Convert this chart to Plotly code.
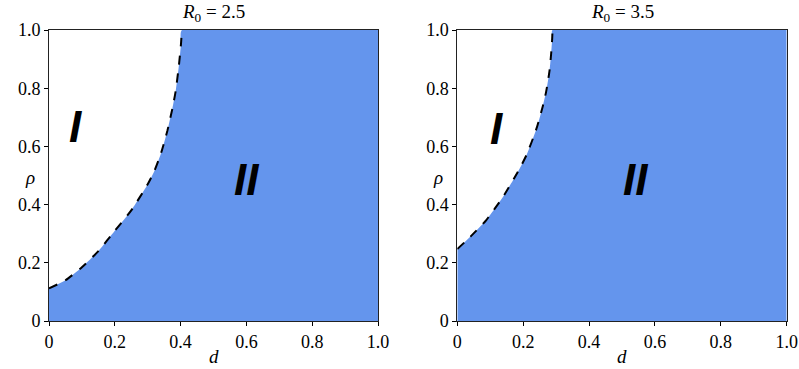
import plotly.graph_objects as go

# Boundary curves (d, rho)
d_r25 = [0.0, 0.05, 0.10, 0.15, 0.20, 0.25, 0.30, 0.32, 0.34, 0.36, 0.375, 0.385, 0.395, 0.401, 0.404]
rho_r25 = [0.112, 0.14, 0.185, 0.24, 0.31, 0.38, 0.47, 0.515, 0.575, 0.655, 0.73, 0.79, 0.88, 0.95, 1.0]

d_r35 = [0.0, 0.04, 0.088, 0.139, 0.184, 0.21, 0.24, 0.26, 0.27, 0.28, 0.285, 0.288, 0.289]
rho_r35 = [0.247, 0.29, 0.347, 0.427, 0.513, 0.57, 0.66, 0.74, 0.79, 0.86, 0.92, 0.97, 1.0]

titles = ["<i>R</i><sub>0</sub> = 2.5", "<i>R</i><sub>0</sub> = 3.5"]
tick_vals = [0, 0.2, 0.4, 0.6, 0.8, 1.0]
tick_text = ["0", "0.2", "0.4", "0.6", "0.8", "1.0"]
region_labels = ["I", "II"]
label_pos_r25 = [(0.08, 0.67), (0.60, 0.485)]
label_pos_r35 = [(0.12, 0.66), (0.54, 0.485)]

BLUE = "#6495ED"
AX_MIN, AX_MAX = 0.0, 1.0
SERIF = "Liberation Serif"

W, H = 799, 369


def fx(px):
    return px / W


def fy(py):
    return 1 - py / H


fig = go.Figure()

panels = [(d_r25, rho_r25, "x", "y", label_pos_r25),
          (d_r35, rho_r35, "x2", "y2", label_pos_r35)]

for d, rho, xa, ya, lpos in panels:
    fig.add_trace(go.Scatter(x=[AX_MIN, AX_MAX], y=[AX_MIN, AX_MIN], mode="lines",
                             line=dict(width=0, color=BLUE), xaxis=xa, yaxis=ya,
                             showlegend=False, hoverinfo="skip"))
    fig.add_trace(go.Scatter(x=list(d) + [AX_MAX], y=list(rho) + [AX_MAX], mode="lines",
                             fill="tonexty", fillcolor=BLUE,
                             line=dict(width=0, color=BLUE, shape="spline", smoothing=0.6),
                             xaxis=xa, yaxis=ya, showlegend=False, hoverinfo="skip"))
    fig.add_trace(go.Scatter(x=d, y=rho, mode="lines",
                             line=dict(color="black", width=2, dash="dash",
                                       shape="spline", smoothing=0.6),
                             xaxis=xa, yaxis=ya, showlegend=False))
    for txt, (lx, ly) in zip(region_labels, lpos):
        fig.add_annotation(x=lx, y=ly, xref=xa, yref=ya, text="<b><i>%s</i></b>" % txt,
                           showarrow=False, xanchor="center", yanchor="middle",
                           font=dict(family="Liberation Sans", size=44, color="black"))

axis_common = dict(range=[AX_MIN, AX_MAX], tickvals=tick_vals, ticktext=tick_text,
                   ticks="outside", ticklen=4, tickwidth=1, tickcolor="black",
                   showline=True, linecolor="#222", linewidth=1, mirror=True,
                   showgrid=False, zeroline=False, automargin=False,
                   tickfont=dict(family=SERIF, size=18, color="black"))

fig.update_layout(
    width=W, height=H,
    margin=dict(l=0, r=0, t=0, b=0, autoexpand=False),
    paper_bgcolor="white", plot_bgcolor="white",
    xaxis=dict(domain=[fx(49), fx(378)], anchor="y", **axis_common),
    yaxis=dict(domain=[fy(321), fy(30)], anchor="x", **axis_common),
    xaxis2=dict(domain=[fx(457.3), fx(786.7)], anchor="y2", **axis_common),
    yaxis2=dict(domain=[fy(321), fy(30)], anchor="x2", **axis_common),
)

centers = [(49 + 378) / 2, (457.3 + 786.7) / 2]
for t, cx in zip(titles, centers):
    fig.add_annotation(x=fx(cx), y=fy(13), xref="paper", yref="paper", text=t,
                       showarrow=False, xanchor="center", yanchor="middle",
                       font=dict(family=SERIF, size=19, color="black"))
    fig.add_annotation(x=fx(cx), y=fy(356), xref="paper", yref="paper", text="<i>d</i>",
                       showarrow=False, xanchor="center", yanchor="middle",
                       font=dict(family=SERIF, size=19, color="black"))

for px in [30, 438]:
    fig.add_annotation(x=fx(px), y=fy(177), xref="paper", yref="paper", text="<i>ρ</i>",
                       showarrow=False, xanchor="center", yanchor="middle",
                       font=dict(family=SERIF, size=19, color="black"))

fig.write_html("out.html", config={"displayModeBar": False},
               post_script="document.body.style.margin='0';document.body.style.overflow='hidden';")
